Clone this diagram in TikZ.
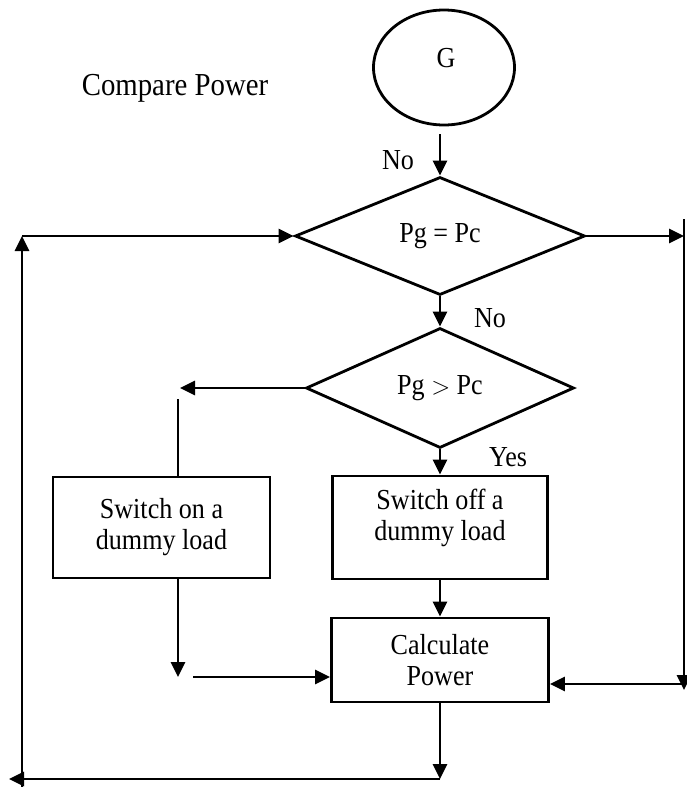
\documentclass[tikz,border=0pt]{standalone}
\usepackage{fontspec}
\setmainfont{Liberation Serif}[FakeStretch=0.9]
\usetikzlibrary{shapes.geometric,arrows.meta}
\begin{document}
\begin{tikzpicture}[x=1pt,y=-1pt,
  line width=2.8pt,
  arr/.style={-{Triangle[length=15pt,width=14pt]}},
  lbl/.style={font=\fontsize{29}{33}\selectfont, inner sep=0pt},
  dec/.style={draw, diamond, inner sep=0pt, font=\fontsize{29}{33}\selectfont},
  proc/.style={draw, rectangle, inner sep=0pt, align=center, font=\fontsize{29}{31}\selectfont}]
\useasboundingbox (0,0) rectangle (687,787);
% nodes
\node[draw, ellipse, minimum width=141pt, minimum height=115pt, inner sep=0pt] (g) at (444,67.5) {};
\node[lbl] (glabel) at (446,58) {G};
\node[inner sep=0pt, font=\fontsize{32}{36}\selectfont] (title) at (175,88) {Compare Power};
\node[dec, minimum width=290pt, minimum height=118pt] (d1) at (440,236) {Pg = Pc};
\node[dec, minimum width=268pt, minimum height=120pt] (d2) at (440,388) {Pg $>$ Pc};
\node[proc, minimum width=217pt, minimum height=101pt] (box1) at (161.5,527.5) {Switch on a\\dummy load};
\node[proc, minimum width=215pt, minimum height=103pt] (box2) at (440,527.5) {Switch off a\\dummy load\\[-6pt]};
\node[proc, minimum width=217pt, minimum height=84pt] (box3) at (440,660) {Calculate\\Power};
\node[lbl] (no1) at (398,160) {No};
\node[lbl] (no2) at (490,318) {No};
\node[lbl] (yes) at (508,457) {Yes};
% free ends
\coordinate (rt) at (684,219);
\coordinate (rb) at (684,690);
\coordinate (rh) at (684,684);
\coordinate (la) at (180,388);
\coordinate (lt) at (178,399);
\coordinate (lb) at (178,677);
\coordinate (hc) at (193,677);
\coordinate (bh) at (440,779);
\coordinate (bt) at (9,779);
\coordinate (lv0) at (22,787);
\coordinate (lv1) at (22,236);
% connectors
\draw[arr, shorten <=8pt] (g.south -| d1.north) -- (d1.north);
\draw[arr] (d1.south) -- (d2.north);
\draw[arr] (d1.east) -- (d1.east -| rt);
\draw[arr] (rt) -- (rb);
\draw[arr] (rh) -- (rh -| box3.east);
\draw[arr] (d2.west) -- (la);
\draw (lt) -- (lt |- box1.north);
\draw[arr] (lt |- box1.south) -- (lb);
\draw[arr] (hc) -- (hc -| box3.west);
\draw[arr] (d2.south) -- (box2.north);
\draw[arr] (box2.south) -- (box3.north);
\draw[arr] (box3.south) -- (bh);
\draw[arr] (bh) -- (bt);
\draw[arr] (lv0) -- (lv1);
\draw[arr] (lv1) -- (d1.west);
\end{tikzpicture}
\end{document}
